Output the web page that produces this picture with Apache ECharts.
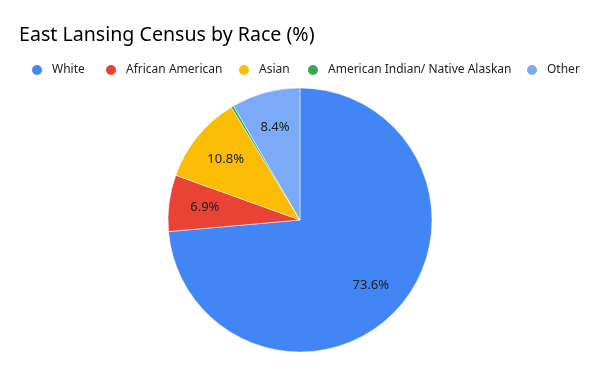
<!DOCTYPE html>
<html>
<head>
<meta charset="utf-8">
<script src="https://cdn.jsdelivr.net/npm/echarts@6/dist/echarts.min.js"></script>
<style>html,body{margin:0;padding:0;background:#fff;}#c{width:600px;height:371px;}</style>
</head>
<body>
<div id="c"></div>
<script>
const categories = ['White', 'African American', 'Asian', 'American Indian/ Native Alaskan', 'Other'];
const values = [73.6, 6.9, 10.8, 0.3, 8.4];
const colors = ['#4285F4', '#EA4335', '#FBBC04', '#34A853', '#7BAAF7'];
const legendLeft = [25, 99, 232, 301, 520];

const FONT = 'Noto Sans';
const chart = echarts.init(document.getElementById('c'), null, {renderer: 'canvas'});
const data = categories.map((n, i) => ({name: n, value: values[i], itemStyle: {color: colors[i]}}));
const legends = categories.map((n, i) => ({
  data: [n], left: legendLeft[i], top: 58, orient: 'horizontal',
  icon: 'circle', itemWidth: 12, itemHeight: 12, itemGap: 0,
  textStyle: {fontFamily: FONT, fontSize: 12, color: '#222', padding: [0, 0, 0, 4]},
  selectedMode: false
}));
chart.setOption({
  backgroundColor: '#fff',
  animation: false,
  color: colors,
  title: {
    text: 'East Lansing Census by Race (%)', left: 14, top: 20,
    textStyle: {fontFamily: FONT, fontSize: 19.6, fontWeight: 'normal', color: '#000'}
  },
  legend: legends,
  series: [
    {
      type: 'pie', center: [300, 220], radius: [0, 132], startAngle: 90, clockwise: true,
      data: data, label: {show: false}, labelLine: {show: false},
      itemStyle: {borderColor: '#fff', borderWidth: 0.5}, silent: true
    },
    {
      type: 'pie', center: [300, 220], radius: [54, 132], startAngle: 90, clockwise: true,
      data: categories.map((n, i) => ({name: n, value: values[i]})),
      itemStyle: {color: 'rgba(0,0,0,0)'}, silent: true,
      label: {
        show: true, position: 'inside', color: '#222', fontFamily: FONT, fontSize: 13,
        formatter: p => p.value >= 1 ? p.value.toFixed(1) + '%' : ''
      },
      labelLine: {show: false}
    }
  ]
});
</script>
</body>
</html>
